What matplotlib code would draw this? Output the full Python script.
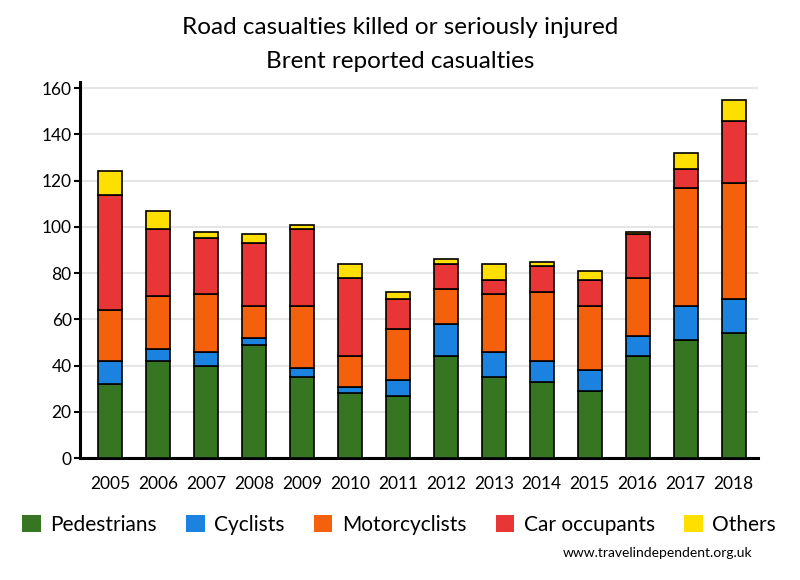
import matplotlib
matplotlib.use('Agg')
import matplotlib.pyplot as plt
from matplotlib.patches import Patch
import numpy as np

plt.rcParams['font.family'] = ['Lato', 'DejaVu Sans']

# Data
years = ['2005', '2006', '2007', '2008', '2009', '2010', '2011',
         '2012', '2013', '2014', '2015', '2016', '2017', '2018']
pedestrians = [32, 42, 40, 49, 35, 28, 27, 44, 35, 33, 29, 44, 51, 54]
cyclists = [10, 5, 6, 3, 4, 3, 7, 14, 11, 9, 9, 9, 15, 15]
motorcyclists = [22, 23, 25, 14, 27, 13, 22, 15, 25, 30, 28, 25, 51, 50]
car_occupants = [50, 29, 24, 27, 33, 34, 13, 11, 6, 11, 11, 19, 8, 27]
others = [10, 8, 3, 4, 2, 6, 3, 2, 7, 2, 4, 1, 7, 9]

series = [('Pedestrians', pedestrians, '#367622'),
          ('Cyclists', cyclists, '#1c82e0'),
          ('Motorcyclists', motorcyclists, '#f5600c'),
          ('Car occupants', car_occupants, '#e83535'),
          ('Others', others, '#ffdf00')]

fig = plt.figure(figsize=(8, 5.8), dpi=100)
ax = fig.add_axes([0.10, 0.21, 0.8475, 0.648])

x = np.arange(len(years))
bottom = np.zeros(len(years))
handles = []
for name, vals, col in series:
    ax.bar(x, vals, 0.5, bottom=bottom, color=col, edgecolor='black',
           linewidth=1.2, zorder=3)
    bottom += np.array(vals)
    handles.append(Patch(facecolor=col, edgecolor='none', label=name))

ax.set_xlim(-0.63, 13.51)
ax.set_ylim(0, 162.5)
ax.set_yticks(range(0, 161, 20))
ax.set_xticks(x)
ax.set_xticklabels(years)
ax.grid(axis='y', color='#e6e6e6', linewidth=1.5, zorder=0)
ax.tick_params(axis='x', length=0, labelsize=12.5, pad=13)
ax.tick_params(axis='y', length=4, width=1.5, labelsize=12.5, pad=2)
for s in ['top', 'right']:
    ax.spines[s].set_visible(False)
for s in ['left', 'bottom']:
    ax.spines[s].set_linewidth(2.2)

# Title (two lines)
fig.text(0.5, 1 - 28 / 580, 'Road casualties killed or seriously injured',
         ha='center', va='center', fontsize=17.5)
fig.text(0.5, 1 - 61 / 580, 'Brent reported casualties',
         ha='center', va='center', fontsize=17.5)

fig.legend(handles=handles, loc='center left',
           bbox_to_anchor=(22 / 800, 1 - 525 / 580), ncol=5,
           frameon=False, fontsize=15, handlelength=0.9, handleheight=0.9,
           handletextpad=0.45, columnspacing=1.4, borderpad=0,
           borderaxespad=0)

fig.text(0.94, 1 - 553 / 580, 'www.travelindependent.org.uk', ha='right',
         va='center', fontsize=10)

fig.savefig('out.png', dpi=100)
